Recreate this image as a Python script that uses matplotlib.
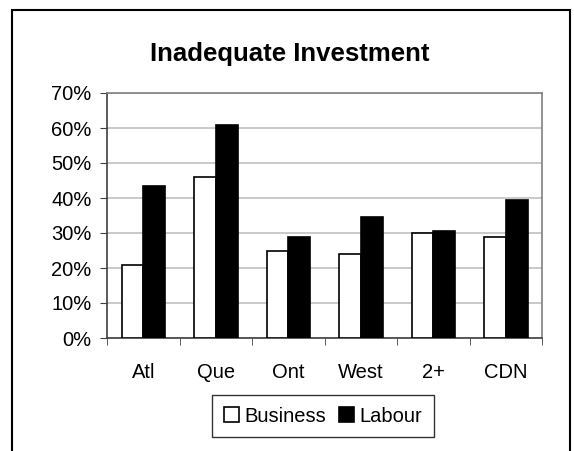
import numpy as np
import matplotlib.pyplot as plt
from matplotlib.patches import Rectangle

regions = ['Atl', 'Que', 'Ont', 'West', '2+', 'CDN']
business = [21, 46, 25, 24, 30, 29]
labour = [43.5, 61, 29, 34.5, 30.5, 39.5]
yticks = [0, 10, 20, 30, 40, 50, 60, 70]

plt.rcParams['font.family'] = ['Liberation Sans', 'DejaVu Sans']

W, H = 574, 451
fig = plt.figure(figsize=(W / 100, H / 100), dpi=100)

# outer chart frame (bottom edge is cut off in the original)
fig.patches.append(Rectangle((12 / W, -0.05), 558 / W, 1.05 - 10 / H,
                             transform=fig.transFigure, fill=False,
                             edgecolor='black', linewidth=1.5))

ax = fig.add_axes([107 / W, 1 - 338 / H, 435 / W, 245 / H])

x = np.arange(len(regions))
w = 0.3
ax.bar(x - w / 2, business, w, color='white', edgecolor='black', linewidth=1.2,
       label='Business', zorder=3)
ax.bar(x + w / 2, labour, w, color='black', edgecolor='black', linewidth=1.2,
       label='Labour', zorder=3)

ax.set_xlim(-0.5, len(regions) - 0.5)
ax.set_ylim(0, 70)
ax.set_yticks(yticks)
ax.set_yticklabels([f'{v}%' for v in yticks])
ax.set_xticks(x)
ax.set_xticklabels(regions)
ax.set_xticks(np.arange(-0.5, len(regions)), minor=True)
ax.tick_params(axis='x', which='major', length=0, pad=18, labelsize=14.5)
ax.tick_params(axis='x', which='minor', length=5, direction='out', color='#404040')
ax.tick_params(axis='y', length=5, direction='out', color='#404040', labelsize=14.5, pad=6)

ax.yaxis.grid(True, color='#c0c0c0', linewidth=1.2, zorder=0)
ax.set_axisbelow(True)
for s in ['top', 'right']:
    ax.spines[s].set_color('#808080')
    ax.spines[s].set_linewidth(1.2)
for s in ['left', 'bottom']:
    ax.spines[s].set_color('#404040')
    ax.spines[s].set_linewidth(1.2)

fig.text(290 / W, 1 - 61 / H, 'Inadequate Investment', ha='center', va='baseline',
         fontsize=18.5, fontweight='bold')

leg = fig.legend(loc='center', bbox_to_anchor=(323 / W, 1 - 416 / H), ncol=2,
                 fontsize=14.5, frameon=True, fancybox=False, edgecolor='black',
                 handlelength=0.75, handleheight=0.75, handletextpad=0.3,
                 columnspacing=0.6, borderpad=0.55)
leg.get_frame().set_linewidth(1.0)

fig.savefig('out.png', dpi=100)
